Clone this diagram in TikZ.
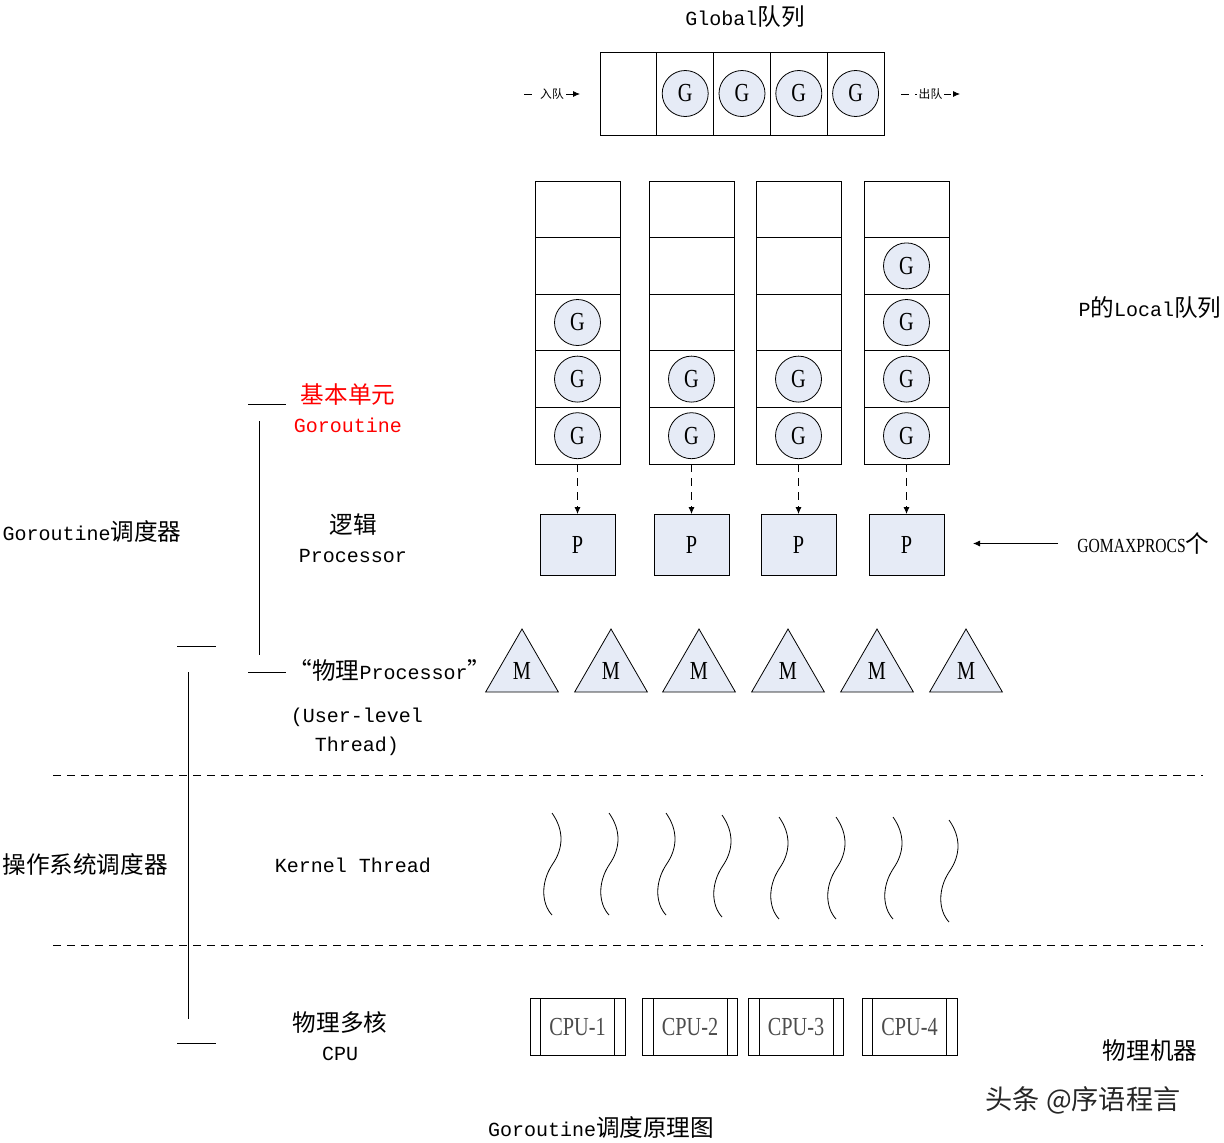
\documentclass[tikz,border=0pt]{standalone}
\usepackage{fontspec}
\setmainfont{Liberation Mono}
\newfontfamily\cjk[Scale=1.18]{Noto Sans CJK SC}
\newfontfamily\lat[FakeStretch=0.78]{Liberation Serif}
\usetikzlibrary{positioning,shapes.geometric,arrows.meta}
\definecolor{mfill}{RGB}{230,235,246}

\begin{document}
\begin{tikzpicture}[x=0.5pt, y=-0.5pt,
				qcell/.style={rectangle, draw, outer sep=0pt, inner sep=0pt, minimum width=28.4pt, minimum height=41.5pt},
				lcell/.style={rectangle, draw, outer sep=0pt, inner sep=0pt, minimum width=42.5pt, minimum height=28.3pt},
				gor/.style={circle, draw, fill=mfill, minimum size=23pt, inner sep=0pt, font=\lat\fontsize{13}{13}\selectfont},
				proc/.style={rectangle, draw, fill=mfill, minimum width=37.5pt, minimum height=30.3pt, font=\lat\fontsize{13}{13}\selectfont},
				mach/.style={regular polygon, regular polygon sides=3, draw, fill=mfill, minimum size=42pt, inner sep=0pt, font=\lat\fontsize{13}{13}\selectfont},
				cpu/.style={rectangle, draw, minimum width=47.5pt, minimum height=28.5pt, text=black!70, font=\lat\fontsize{13}{13}\selectfont,
					path picture={
						\draw ([xshift=5.25pt]path picture bounding box.north west) -- ([xshift=5.25pt]path picture bounding box.south west);
						\draw ([xshift=-5.25pt]path picture bounding box.north east) -- ([xshift=-5.25pt]path picture bounding box.south east);}},
				txt/.style={align=center, font=\fontsize{10}{14.5}\selectfont},
				qlabel/.style={fill=white, inner sep=1pt, font=\cjk\fontsize{5}{5}\selectfont},
				dashsep/.style={dash pattern=on 4pt off 3pt},
				arr/.style={-{Latex[length=3.5pt,width=3pt]}}
			]
			\useasboundingbox (0,0) rectangle (1224,1142);
			% global queue
			\node[txt] (gtitle) at (745,17) {Global{\cjk 队列}};
			\node[qcell] (gq1) at (628.4,93.5) {};
			\foreach \i [remember=\i as \j (initially 1)] in {2,...,5}
				\node[qcell, right=0pt of gq\j] (gq\i) {};
			\foreach \i in {2,...,5}
				\node[gor] (gg\i) at (gq\i) {G};
			\coordinate (inL) at (524,94);
			\coordinate (inR) at (580,94);
			\coordinate (outL) at (901,94);
			\coordinate (outR) at (960,94);
			\draw[dashsep, arr] (inL) -- node[qlabel] {入队} (inR);
			\draw[dashsep, arr] (outL) -- node[qlabel] {出队} (outR);
			% local queues and P
			\foreach \c/\x/\n in {1/577.5/3, 2/691.5/2, 3/798.5/2, 4/906.5/4} {
				\node[lcell] (lq\c1) at (\x,209.3) {};
				\foreach \r [remember=\r as \s (initially 1)] in {2,...,5}
					\node[lcell, below=0pt of lq\c\s] (lq\c\r) {};
				\foreach \g [evaluate=\g as \r using int(6-\g)] in {1,...,\n}
					\node[gor] (lg\c\r) at (lq\c\r) {G};
				\node[proc, below=25pt of lq\c5] (p\c) {P};
				\draw[dashsep, arr] (lq\c5.south) -- (p\c.north);
			}
			\node[txt] (plocal) at (1150,308) {P{\cjk 的}Local{\cjk 队列}};
			\node[txt, anchor=west, inner sep=0pt, font=\lat\fontsize{10}{10}\selectfont] (gomax) at (1077,543.5) {GOMAXPROCS{\cjk 个}};
			\coordinate (gend) at (973,543.5);
			\draw[arr, shorten <=9.5pt] (gomax.west) -- (gend);
			% M
			\foreach \i/\x in {1/522, 2/611, 3/699, 4/788, 5/877, 6/966}
				\node[mach] (m\i) at (\x,671) {M};
			% kernel threads
			\foreach \x/\y in {552/813, 609/813, 666/813, 722/815, 779/817, 836/817, 893/817, 949/820}
				\draw (\x,\y) .. controls ({\x+12},{\y+17}) and ({\x+12},{\y+35}) .. (\x,{\y+52})
					.. controls ({\x-11},{\y+69}) and ({\x-11},{\y+90}) .. (\x,{\y+102});
			% CPU
			\foreach \i/\x in {1/577.5, 2/690, 3/796, 4/909.5}
				\node[cpu] (cpu\i) at (\x,1026.5) {CPU-\i};
			% separators
			\draw[dashsep] (53,775) -- (1203,775);
			\draw[dashsep] (53,945) -- (1203,945);
			% left labels
			\node[txt, text=red] (gunit) at (348,408) {{\cjk 基本单元}\\Goroutine};
			\node[txt] (lproc) at (353,538) {{\cjk 逻辑}\\Processor};
			\node[txt] (pproc) at (390,670) {{\cjk “物理}Processor{\cjk ”}};
			\node[txt] (ult) at (357,732) {(User-level\\Thread)};
			\node[txt] (gsched) at (92,531) {Goroutine{\cjk 调度器}};
			\node[txt] (ossched) at (85,864) {\cjk 操作系统调度器};
			\node[txt] (kthread) at (353,865) {Kernel Thread};
			\node[txt] (pcpu) at (340,1036) {{\cjk 物理多核}\\CPU};
			\node[txt] (pmach) at (1150,1051) {\cjk 物理机器};
			\node[txt] (caption) at (601,1127) {Goroutine{\cjk 调度原理图}};
			\node[font=\cjk\fontsize{11.5}{11.5}\selectfont, text=black!85] (mark) at (1083,1100) {头条 @序语程言};
			% brackets
			\draw (248,404) -- (286,404);
			\draw (259,421) -- (259,655);
			\draw (248,672) -- (286,672);
			\draw (177,646) -- (216,646);
			\draw (188,672) -- (188,1019);
			\draw (177,1043) -- (216,1043);
			\end{tikzpicture}
\end{document}
